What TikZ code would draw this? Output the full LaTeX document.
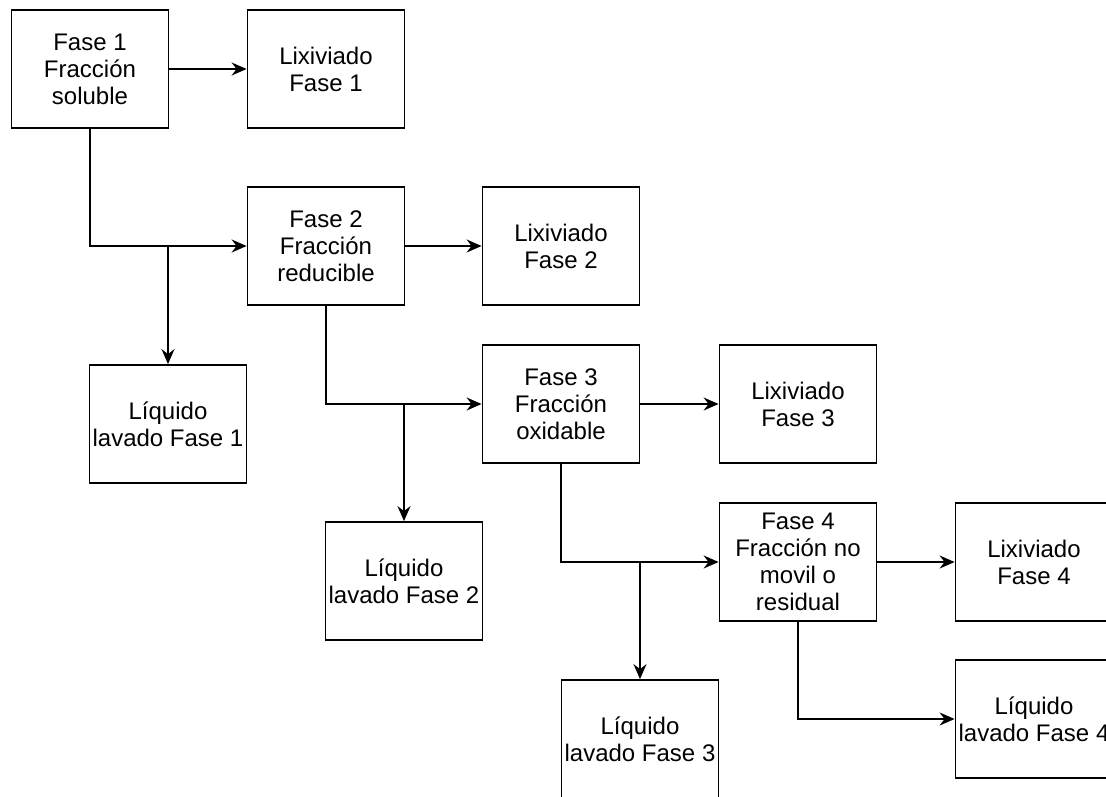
\documentclass[tikz,border=0pt]{standalone}
\usepackage{fontspec}
\setmainfont{Liberation Sans}
\usetikzlibrary{arrows.meta}
\begin{document}
\begin{tikzpicture}[x=1pt,y=-1pt,
    caja/.style={draw,line width=1.8pt,minimum width=157pt,minimum height=118pt,
        inner sep=0pt,align=center,font=\fontsize{24}{27}\selectfont},
    flecha/.style={line width=1.8pt,-{Stealth[length=15pt,width=13pt,inset=5pt]}}]
    \clip (0,0) rectangle (1106,796);
    \useasboundingbox (0,0) rectangle (1106,796);
    \node[caja] (F1) at (90,69) {Fase 1\\Fracción\\soluble};
    \node[caja] (L1) at (326,69) {Lixiviado\\Fase 1};
    \node[caja] (F2) at (326,246) {Fase 2\\Fracción\\reducible};
    \node[caja] (L2) at (561,246) {Lixiviado\\Fase 2};
    \node[caja] (Q1) at (168,424) {Líquido\\lavado Fase 1};
    \node[caja] (F3) at (561,404) {Fase 3\\Fracción\\oxidable};
    \node[caja] (L3) at (798,404) {Lixiviado\\Fase 3};
    \node[caja] (Q2) at (404,581) {Líquido\\lavado Fase 2};
    \node[caja] (F4) at (798,562) {Fase 4\\Fracción no\\movil o\\residual};
    \node[caja] (L4) at (1034,562) {Lixiviado\\Fase 4};
    \node[caja] (Q3) at (640,739) {Líquido\\lavado Fase 3};
    \node[caja] (Q4) at (1034,719) {Líquido\\lavado Fase 4};
    \draw[flecha] (F1) -- (L1);
    \draw[flecha] (F2) -- (L2);
    \draw[flecha] (F3) -- (L3);
    \draw[flecha] (F4) -- (L4);
    \draw[flecha] (F1.south) |- (F2.west);
    \draw[flecha] (F2.south) |- (F3.west);
    \draw[flecha] (F3.south) |- (F4.west);
    \draw[flecha] (F4.south) |- (Q4.west);
    \draw[flecha] (F1.south |- F2.west) -| (Q1.north);
    \draw[flecha] (F2.south |- F3.west) -| (Q2.north);
    \draw[flecha] (F3.south |- F4.west) -| (Q3.north);
\end{tikzpicture}
\end{document}
